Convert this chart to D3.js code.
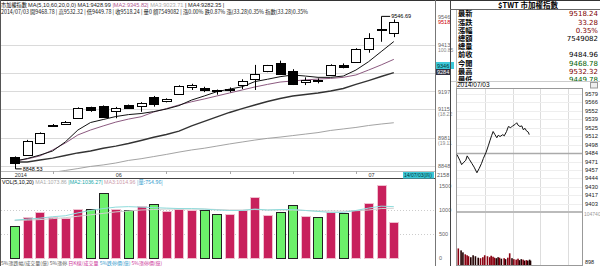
<!DOCTYPE html>
<html>
<head>
<meta charset="utf-8">
<script src="https://cdn.jsdelivr.net/npm/d3@7"></script>
<style>
  body { margin: 0; background: #fff; }
  svg { display: block; font-family: "Liberation Sans", "DejaVu Sans", sans-serif; }
  .cjk { font-family: "Noto Sans CJK TC", sans-serif; }
</style>
</head>
<body>
<svg id="chart" width="600" height="266"></svg>
<script>
// daily candles, 2014/05/21 - 2014/07/03
const dates = ["2014-05-21","2014-05-22","2014-05-23","2014-05-26","2014-05-27","2014-05-28","2014-05-29","2014-05-30",
  "2014-06-03","2014-06-04","2014-06-05","2014-06-06","2014-06-09","2014-06-10","2014-06-11","2014-06-12","2014-06-13",
  "2014-06-16","2014-06-17","2014-06-18","2014-06-19","2014-06-20","2014-06-23","2014-06-24","2014-06-25","2014-06-26",
  "2014-06-27","2014-06-30","2014-07-01","2014-07-02","2014-07-03"];
const open  = [8888, 8899, 8958, 9039, 9045, 9071, 9122, 9129, 9106, 9133, 9128, 9168, 9153, 9184, 9219, 9212,
  9199, 9204, 9223, 9257, 9290, 9330, 9293, 9238, 9248, 9276, 9318, 9337, 9397, 9490, 9468.78];
const high  = [8893, 8970, 9005, 9044, 9058, 9122, 9125, 9131, 9124, 9135, 9146, 9175, 9164, 9225, 9232, 9218,
  9205, 9215, 9253, 9320, 9320, 9340, 9300, 9262, 9257, 9323, 9327, 9398, 9468, 9546.69, 9532.32];
const low   = [8848.53, 8895, 8955, 9035, 9043, 9068, 9101, 9075, 9071, 9118, 9101, 9125, 9145, 9180, 9203, 9193,
  9181, 9192, 9207, 9203, 9286, 9276, 9226, 9226, 9234, 9274, 9304, 9335, 9377, 9428, 9449.78];
const close = [8861, 8966, 9003, 9040, 9055, 9120, 9110, 9078, 9120, 9119, 9141, 9133, 9162, 9223, 9228, 9203,
  9201, 9207, 9243, 9279, 9318, 9278, 9234, 9248, 9245, 9321, 9310, 9396, 9447, 9484.96, 9518.24];
const prevCloseBefore = 8890;

const ma5  = [8871, 8883, 8899, 8918, 8960, 9016, 9051, 9065, 9079, 9088, 9093, 9102, 9114, 9130, 9156, 9175,
  9195, 9207, 9218, 9242, 9253, 9265, 9273, 9268, 9262, 9262, 9268, 9296, 9335, 9382, 9429];
const ma10 = [8871, 8881, 8895, 8923, 8955, 8993, 9016, 9035, 9053, 9067, 9078, 9100, 9116, 9133, 9148, 9161,
  9175, 9189, 9203, 9217, 9229, 9240, 9245, 9250, 9254, 9257, 9262, 9273, 9296, 9320, 9346];
const ma20 = [8867, 8867, 8876, 8885, 8897, 8909, 8918, 8931, 8941, 8953, 8967, 8982, 8995, 9011, 9035, 9056,
  9077, 9098, 9116, 9133, 9149, 9163, 9175, 9182, 9189, 9198, 9210, 9229, 9247, 9266, 9284];
const ma60 = [8792, 8799, 8806, 8818, 8827, 8836, 8846, 8853, 8862, 8874, 8882, 8892, 8902, 8913, 8923, 8931,
  8941, 8951, 8960, 8969, 8977, 8983, 8990, 8997, 9004, 9014, 9021, 9028, 9037, 9044, 9050];

// volume (億)
const volume = [673, 860, 965, 860, 826, 1014, 1021, 1360, 1014, 1000, 1090, 1125, 986, 1021, 1000, 1000,
  917, 917, 1000, 1277, 896, 965, 1104, 881, 847, 965, 944, 1000, 1139, 1530, 754.96];
const volMa5  = [790, 810, 830, 860, 880, 940, 990, 1030, 1060, 1070, 1060, 1050, 1040, 1030, 1030, 1020,
  1000, 990, 990, 1020, 1000, 1010, 1010, 990, 970, 950, 950, 990, 1040, 1080, 1070];
const volMa10 = [780, 790, 800, 820, 840, 870, 900, 930, 960, 980, 1000, 1010, 1020, 1020, 1020, 1020,
  1010, 1000, 1000, 1010, 1000, 1000, 1000, 990, 980, 980, 975, 985, 1000, 1030, 1036];

const gridTicks = [8848, 8981, 9115, 9197, 9280, 9413];
const axisTicks = [8848, 8981, 9115, 9197, 9413, 9546];
const volTicks = [0, 500, 1000, 1500];

// quote box
const quoteRows = [
  ["最新", "9518.24", "#800000"], ["漲跌", "33.28", "#800000"], ["漲幅", "0.35%", "#800000"],
  ["總額", "7549082", "#000"], ["總量", "", "#000"], ["前收", "9484.96", "#000"],
  ["今開", "9468.78", "#006000"], ["最高", "9532.32", "#800000"], ["最低", "9449.78", "#006000"]
];

// intraday (minutes after 09:00)
const tickMinutes = [0, 6, 10, 15, 19, 22, 27, 32, 37, 43, 48, 53, 57, 63, 68, 71, 75, 78, 82, 86, 89, 93,
  99, 102, 107, 111, 116, 120, 125, 129, 132, 136, 140, 143, 147, 150, 154, 156];
const tickPrice = [9482, 9473, 9466, 9470, 9473, 9480, 9474, 9468, 9462, 9453, 9460, 9468, 9476, 9486, 9497,
  9504, 9513, 9519, 9514, 9509, 9513, 9511, 9514, 9512, 9519, 9527, 9525, 9528, 9530, 9533, 9529, 9527,
  9528, 9522, 9524, 9520, 9518, 9514];
const tickVol = [34000, 30000, 26000, 22000, 20000, 18000, 16000, 20000, 18000, 15000, 14000, 16000, 20000,
  18000, 16000, 19000, 17000, 15000, 14000, 16000, 15000, 13000, 14000, 12000, 15000, 24000, 14000, 12000,
  11000, 13000, 10000, 12000, 11000, 9000, 10000, 9000, 11000, 9000];
const intraTicks = [9579, 9566, 9552, 9539, 9525, 9512, 9498, 9484, 9471, 9457, 9444, 9430, 9417, 9403];
const prevClose = 9484.96;

const svg = d3.select("#chart");

// ---------- main price panel
const x = d3.scaleBand().domain(dates).range([6.6, 401.9]).padding(0.28);
const cx = (d) => x(d) + x.bandwidth() / 2;
const y = d3.scaleLinear().domain([8848, 9413]).range([166, 45]);
const yv = d3.scaleLinear().domain([0, 1500]).range([258, 186]);
const px = (v) => Math.round(v) + 0.5;

svg.append("line").attr("x1", 0).attr("x2", 450).attr("y1", 0.5).attr("y2", 0.5).attr("stroke", "#333");
svg.append("line").attr("x1", 0.5).attr("x2", 0.5).attr("y1", 0).attr("y2", 266).attr("stroke", "#555");

svg.append("g")
  .selectAll("line")
  .data(gridTicks)
  .join("line")
  .attr("x1", 1).attr("x2", 435)
  .attr("y1", (d) => px(y(d))).attr("y2", (d) => px(y(d)))
  .attr("stroke", "#dadada");

svg.append("clipPath").attr("id", "clipMain")
  .append("rect").attr("x", 1).attr("y", 14).attr("width", 434).attr("height", 157);

const main = svg.append("g").attr("clip-path", "url(#clipMain)");

const line = (arr) => d3.line().x((d, i) => cx(dates[i])).y((d) => y(d))(arr);
main.append("path").attr("d", line(ma60)).attr("fill", "none").attr("stroke", "#999").attr("stroke-width", 0.9);
main.append("path").attr("d", line(ma20)).attr("fill", "none").attr("stroke", "#333").attr("stroke-width", 1.4);
main.append("path").attr("d", line(ma10)).attr("fill", "none").attr("stroke", "#8c5a80").attr("stroke-width", 1);
main.append("path").attr("d", line(ma5)).attr("fill", "none").attr("stroke", "#111").attr("stroke-width", 1);

const candles = dates.map((d, i) => ({ d, o: open[i], h: high[i], l: low[i], c: close[i] }));

main.selectAll("line.wick")
  .data(candles)
  .join("line")
  .attr("class", "wick")
  .attr("x1", (d) => px(cx(d.d))).attr("x2", (d) => px(cx(d.d)))
  .attr("y1", (d) => y(d.h)).attr("y2", (d) => y(d.l))
  .attr("stroke", "#000");

main.selectAll("rect.body")
  .data(candles)
  .join("rect")
  .attr("class", "body")
  .attr("x", (d) => Math.round(x(d.d)) + 0.5)
  .attr("width", Math.round(x.bandwidth()))
  .attr("y", (d) => Math.round(y(Math.max(d.o, d.c))) + 0.5)
  .attr("height", (d) => Math.max(1, Math.round(Math.abs(y(d.o) - y(d.c)))))
  .attr("fill", (d) => (d.c >= d.o ? "#fff" : "#000"))
  .attr("stroke", "#000");

// max / min markers
const iMax = d3.maxIndex(high), iMin = d3.minIndex(low);
svg.append("path")
  .attr("d", `M${px(cx(dates[iMax]))},${y(high[iMax])}H${cx(dates[iMax]) + 9}`)
  .attr("stroke", "#000");
svg.append("text").attr("x", cx(dates[iMax]) + 10).attr("y", y(high[iMax]) + 2)
  .attr("font-size", 5.5).text(high[iMax].toFixed(2));
svg.append("path")
  .attr("d", `M${px(cx(dates[iMin]))},${y(low[iMin])}V${y(low[iMin]) + 3}H${cx(dates[iMin]) + 7}`)
  .attr("stroke", "#000").attr("fill", "none");
svg.append("text").attr("x", cx(dates[iMin]) + 8).attr("y", y(low[iMin]) + 5)
  .attr("font-size", 5.5).text(low[iMin].toFixed(2));

// date axis
svg.append("line").attr("x1", 1).attr("x2", 435).attr("y1", 171.5).attr("y2", 171.5).attr("stroke", "#bbb");
svg.append("line").attr("x1", 1).attr("x2", 435).attr("y1", 178.5).attr("y2", 178.5).attr("stroke", "#444");
const mondays = dates.filter((d) => new Date(d + "T00:00:00").getDay() === 1);
svg.append("g").selectAll("line").data(mondays).join("line")
  .attr("x1", (d) => px(cx(d))).attr("x2", (d) => px(cx(d)))
  .attr("y1", 171).attr("y2", 174).attr("stroke", "#aaa");
const monthStarts = dates.filter((d, i) => i === 0 || d.slice(5, 7) !== dates[i - 1].slice(5, 7));
svg.append("g").selectAll("text").data(monthStarts).join("text")
  .attr("x", (d) => cx(d)).attr("y", 177)
  .attr("font-size", 5.5).attr("fill", "#333")
  .text((d, i) => (i === 0 ? d.slice(0, 4) : d.slice(5, 7)));
svg.append("rect").attr("x", 403).attr("y", 172).attr("width", 31).attr("height", 6.5).attr("fill", "#3cc8d8");
svg.append("text").attr("x", 404).attr("y", 177.3).attr("font-size", 5).attr("fill", "#033")
  .text("14/07/03(四)");

// right price axis
svg.append("line").attr("x1", 435.5).attr("x2", 435.5).attr("y1", 0).attr("y2", 266).attr("stroke", "#777");
const yAxis = svg.append("g").attr("transform", "translate(436,0)")
  .call(d3.axisRight(y).tickValues(axisTicks).tickSize(0).tickPadding(2).tickFormat(d3.format("d")));
yAxis.select(".domain").remove();
yAxis.selectAll("text").attr("font-size", 5.5).attr("fill", "#666").attr("font-family", "Liberation Sans");
const subLabels = [[9413, "100.85"], [9115, "(18.22"], [8981, "(19.11"]];
svg.append("g").selectAll("text").data(subLabels).join("text")
  .attr("x", 438).attr("y", (d) => y(d[0]) + 7)
  .attr("font-size", 5).attr("fill", "#888").text((d) => d[1]);
svg.append("text").attr("x", 438).attr("y", y(close[close.length - 1]) + 2)
  .attr("font-size", 5.5).attr("fill", "#c00").text(Math.floor(close[close.length - 1]));
svg.append("rect").attr("x", 436).attr("y", 62).attr("width", 18).attr("height", 7).attr("fill", "#3cc8d8");
svg.append("text").attr("x", 437).attr("y", 67.6).attr("font-size", 5.5).attr("fill", "#033")
  .text(ma10[ma10.length - 1].toFixed(0));
svg.append("rect").attr("x", 436).attr("y", 69).attr("width", 14).attr("height", 6).attr("fill", "#334");
svg.append("text").attr("x", 437).attr("y", 74).attr("font-size", 5.5).attr("fill", "#fff")
  .text(ma20[ma20.length - 1].toFixed(0));
svg.append("text").attr("x", 437).attr("y", 177).attr("font-size", 5.5).attr("fill", "#555").text("2158");

// header text
const h1 = svg.append("text").attr("x", 1).attr("y", 6.5).attr("font-size", 5.6);
h1.append("tspan").attr("class", "cjk").attr("font-size", 5.2).text("市加權指數 ");
h1.append("tspan").attr("fill", "#222").text("MA(5,10,60,20,0,0)  MA1:9428.99 ");
h1.append("tspan").attr("fill", "#b05a90").text("|MA2:9345.82| ");
h1.append("tspan").attr("fill", "#aaa").text("MA3:9023.71 ");
h1.append("tspan").attr("fill", "#222").text("| MA4:9282.35 |");

const h2 = svg.append("text").attr("x", 1).attr("y", 13.5).attr("font-size", 5.6).attr("fill", "#222")
  .attr("class", "cjk").attr("textLength", 307).attr("lengthAdjust", "spacingAndGlyphs");
h2.text("2014/07/03 開9468.78 | 高9532.32 | 低9449.78 | 收9518.24 | 量0 額7549082 | 漲0.00% 跌0.87% 漲(33.28)0.35% 指數(33.28)0.35%");

// ---------- volume panel
const vh = svg.append("text").attr("x", 2).attr("y", 183.5).attr("font-size", 5.3);
vh.append("tspan").attr("fill", "#000").text("VOL(5,10,20) ");
vh.append("tspan").attr("fill", "#aaa").text("MA1:1073.86 ");
vh.append("tspan").attr("fill", "#2aa").text("|MA2:1036.27| ");
vh.append("tspan").attr("fill", "#c9a").text("MA3:1014.96 ");
vh.append("tspan").attr("fill", "#39c").attr("class", "cjk").text("|量:754.96|");

svg.append("g").selectAll("line").data(volTicks.slice(1, 3)).join("line")
  .attr("x1", 1).attr("x2", 435).attr("y1", (d) => px(yv(d))).attr("y2", (d) => px(yv(d)))
  .attr("stroke", "#ccc").attr("stroke-dasharray", "1,2");

const bars = dates.map((d, i) => ({
  d, v: volume[i], up: close[i] >= (i === 0 ? prevCloseBefore : close[i - 1])
}));
svg.append("g").selectAll("rect").data(bars).join("rect")
  .attr("x", (d) => Math.round(x(d.d)) + 0.5)
  .attr("width", Math.round(x.bandwidth()))
  .attr("y", (d) => Math.round(yv(d.v)) + 0.5)
  .attr("height", (d) => Math.round(yv(0) - yv(d.v)))
  .attr("fill", (d) => (d.up ? "#c8205c" : "#6cf06a"))
  .attr("stroke", (d) => (d.up ? "#f0c0d0" : "#222"));

const vline = (arr) => d3.line().x((d, i) => cx(dates[i])).y((d) => yv(d))(arr);
svg.append("path").attr("d", vline(volMa10)).attr("fill", "none").attr("stroke", "#cfcfcf").attr("stroke-width", 1);
svg.append("path").attr("d", vline(volMa5)).attr("fill", "none").attr("stroke", "#8fdcdc").attr("stroke-width", 1);

const vAxis = svg.append("g").attr("transform", "translate(436,0)")
  .call(d3.axisRight(yv).tickValues(volTicks).tickSize(0).tickPadding(3).tickFormat(d3.format("d")));
vAxis.select(".domain").remove();
vAxis.selectAll("text").attr("font-size", 5.5).attr("fill", "#666").attr("font-family", "Liberation Sans");

const ft = svg.append("text").attr("x", 1).attr("y", 265).attr("font-size", 5).attr("class", "cjk");
ft.append("tspan").attr("fill", "#555").text("5%漲跌幅/成交量(億)  5%漲停 ");
ft.append("tspan").attr("fill", "#c39").text("日K線/成交量 ");
ft.append("tspan").attr("fill", "#39c").text("5%跌停價(億) ");
ft.append("tspan").attr("fill", "#c39").text("5%漲停價(億)");

// ---------- quote panel
svg.append("line").attr("x1", 450.5).attr("x2", 450.5).attr("y1", 0).attr("y2", 266).attr("stroke", "#444");
svg.append("line").attr("x1", 456.5).attr("x2", 456.5).attr("y1", 9).attr("y2", 88).attr("stroke", "#bbb");
svg.append("line").attr("x1", 450).attr("x2", 600).attr("y1", 0.5).attr("y2", 0.5).attr("stroke", "#333");
svg.append("line").attr("x1", 450).attr("x2", 600).attr("y1", 9.5).attr("y2", 9.5).attr("stroke", "#666");
svg.append("text").attr("x", 528).attr("y", 7.6).attr("text-anchor", "middle").attr("class", "cjk")
  .attr("font-size", 7.5).attr("font-weight", 700).text("$TWT 市加權指數");

const rows = svg.append("g").selectAll("g").data(quoteRows).join("g")
  .attr("transform", (d, i) => `translate(0,${16.3 + i * 8.2})`);
rows.append("text").attr("x", 458).attr("class", "cjk").attr("font-size", 7.2).attr("font-weight", 700)
  .text((d) => d[0]);
rows.append("text").attr("x", 598).attr("text-anchor", "end").attr("font-size", 7)
  .attr("font-family", "DejaVu Sans").attr("fill", (d) => d[2]).text((d) => d[1]);

svg.append("line").attr("x1", 451).attr("x2", 600).attr("y1", 81.5).attr("y2", 81.5).attr("stroke", "#ccc");
svg.append("text").attr("x", 457).attr("y", 87).attr("font-size", 6.5).text("2014/07/03");
svg.append("rect").attr("x", 590.5).attr("y", 82.5).attr("width", 7).attr("height", 5.5)
  .attr("fill", "#eee").attr("stroke", "#999");

// ---------- intraday panel
const tx = d3.scaleLinear().domain([0, 270]).range([457, 582]);
const ty = d3.scaleLinear().domain([9403, 9579]).range([204, 94]);
const tv = d3.scaleLinear().domain([0, 104740]).range([265, 214]);

svg.append("rect").attr("x", 456.5).attr("y", 88.5).attr("width", 126).attr("height", 177)
  .attr("fill", "none").attr("stroke", "#999");
svg.append("g").selectAll("line").data([60, 120, 180, 240]).join("line")
  .attr("x1", (d) => px(tx(d))).attr("x2", (d) => px(tx(d))).attr("y1", 89).attr("y2", 265)
  .attr("stroke", "#ddd");
svg.append("g").selectAll("line").data(intraTicks).join("line")
  .attr("x1", 457).attr("x2", 582).attr("y1", (d) => px(ty(d))).attr("y2", (d) => px(ty(d)))
  .attr("stroke", "#eee");
svg.append("line").attr("x1", 457).attr("x2", 582).attr("y1", px(ty(prevClose))).attr("y2", px(ty(prevClose)))
  .attr("stroke", "#aaa").attr("stroke-width", 1.5);
svg.append("line").attr("x1", 457).attr("x2", 582).attr("y1", 212).attr("y2", 212)
  .attr("stroke", "#bbb").attr("stroke-width", 2);

svg.append("g").selectAll("text").data(intraTicks).join("text")
  .attr("x", 585).attr("y", (d) => ty(d) + 2)
  .attr("font-size", 5.8).attr("fill", "#222").text((d) => d);

svg.append("path")
  .attr("d", d3.line().x((d, i) => tx(tickMinutes[i])).y((d) => ty(d))(tickPrice))
  .attr("fill", "none").attr("stroke", "#111").attr("stroke-width", 1);

svg.append("g").selectAll("rect").data(tickVol).join("rect")
  .attr("x", (d, i) => tx(tickMinutes[i]) + 0.5)
  .attr("width", 1.6)
  .attr("y", (d) => tv(d))
  .attr("height", (d) => tv(0) - tv(d))
  .attr("fill", (d, i) => (i > 0 && tickPrice[i] < tickPrice[i - 1] ? "#200" : "#8a0010"));

svg.append("text").attr("x", 584).attr("y", 216).attr("font-size", 5).attr("fill", "#999").text("104740");
svg.append("text").attr("x", 585).attr("y", 264).attr("font-size", 5.5).attr("fill", "#222").text("898");
</script>
</body>
</html>
